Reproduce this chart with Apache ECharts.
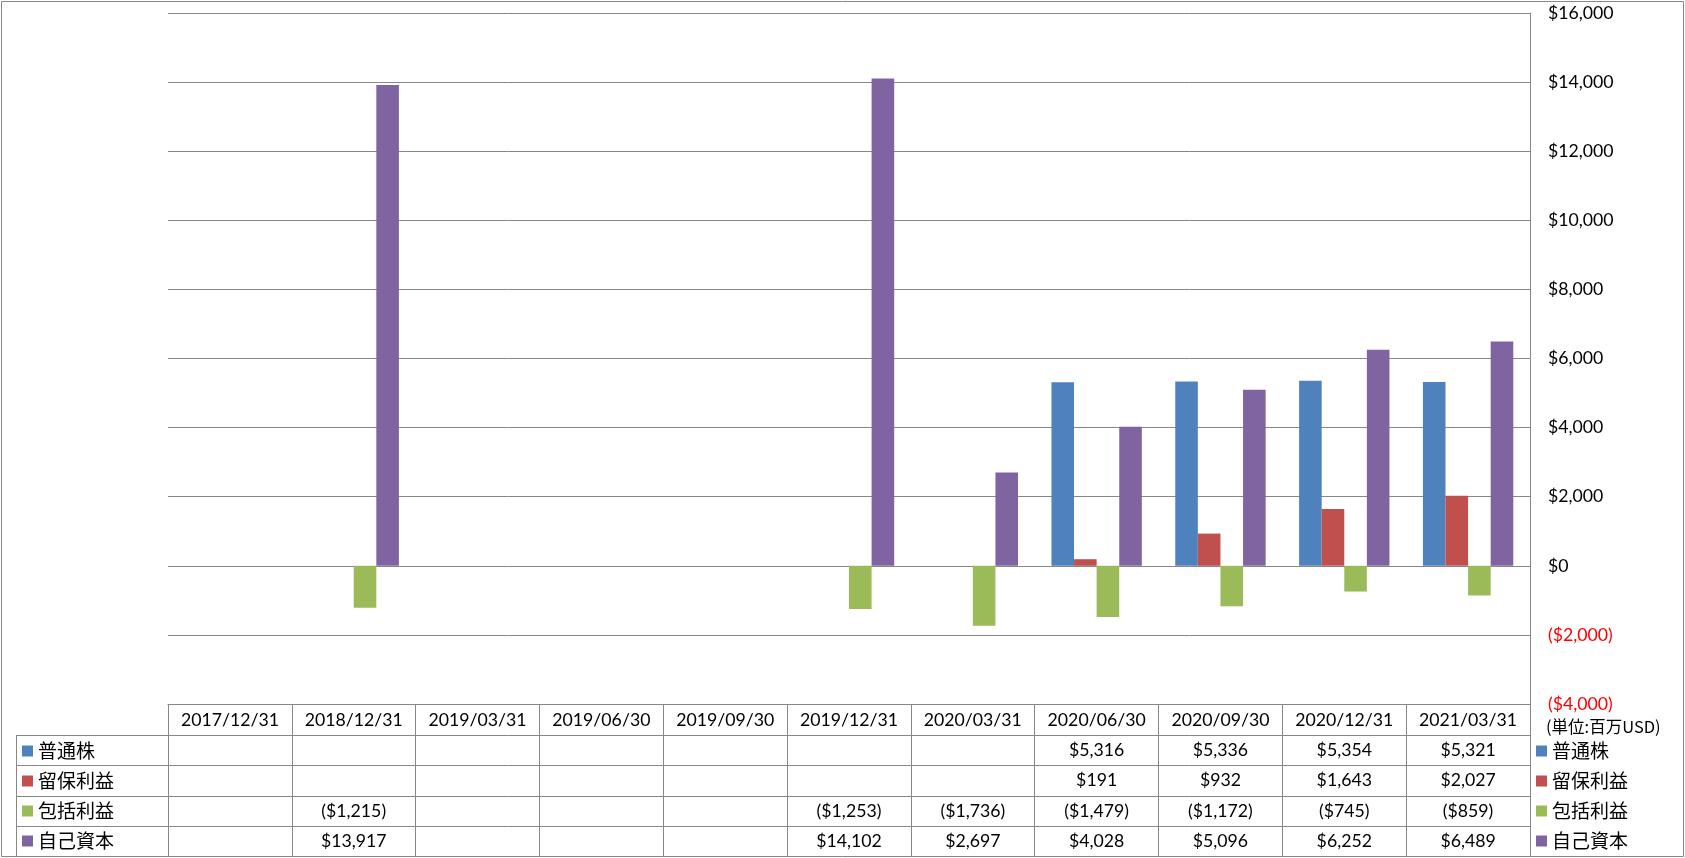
<!DOCTYPE html>
<html><head><meta charset="utf-8">
<script src="https://cdn.jsdelivr.net/npm/echarts@6/dist/echarts.min.js"></script>
<style>html,body{margin:0;padding:0;background:#fff}#c{width:1685px;height:858px}</style>
</head><body><div id="c"></div>
<script>
const categories = ['2017/12/31','2018/12/31','2019/03/31','2019/06/30','2019/09/30','2019/12/31','2020/03/31','2020/06/30','2020/09/30','2020/12/31','2021/03/31'];
const seriesNames = ['普通株','留保利益','包括利益','自己資本'];
const commonStock = [null,null,null,null,null,null,null,5316,5336,5354,5321];
const retainedEarnings = [null,null,null,null,null,null,null,191,932,1643,2027];
const comprehensiveIncome = [null,-1215,null,null,null,-1253,-1736,-1479,-1172,-745,-859];
const equity = [null,13917,null,null,null,14102,2697,4028,5096,6252,6489];
const yMin = -4000, yMax = 16000, yInterval = 2000;
const unitLabel = '(単位:百万USD)';

const colors = ['#4F81BD','#C0504D','#9BBB59','#8064A2'];
const gray = '#878787';
const numFont = 'Lato';
const jpFont = 'Noto Sans CJK JP';
const rows = [commonStock, retainedEarnings, comprehensiveIncome, equity];

function money(v){
  if (v == null || v === '') return '';
  const s = '$' + Math.abs(v).toLocaleString('en-US');
  return v < 0 ? '(' + s + ')' : s;
}

// layout
const G = {left:168, right:155, top:13, bottom:154};
const plotBottom = 858 - G.bottom; // 704
const rowOffsets = [31, 61, 92, 122];
const rowEnd = 152;

const xAxes = [{
  type:'category', data:categories, position:'bottom', offset:0, gridIndex:0,
  axisLine:{show:true, onZero:false, lineStyle:{color:gray, width:1}},
  axisTick:{show:true, interval:0, length:rowOffsets[0], lineStyle:{color:gray}},
  axisLabel:{interval:0, margin:16, verticalAlign:'middle', fontFamily:numFont, fontSize:17.7, color:'#000'},
  splitLine:{show:false}
}];
rows.forEach((r, k) => {
  const next = k < rows.length - 1 ? rowOffsets[k+1] : rowEnd;
  xAxes.push({
    type:'category', data:categories, position:'bottom', offset:rowOffsets[k], gridIndex:0,
    axisLine:{show:true, onZero:false, lineStyle:{color:gray, width:1}},
    axisTick:{show:true, interval:0, length:next - rowOffsets[k], lineStyle:{color:gray}},
    axisLabel:{interval:0, margin:15, verticalAlign:'middle', fontFamily:numFont, fontSize:17.7, color:'#000',
      formatter:(v, i) => money(r[i])},
    splitLine:{show:false}
  });
});

const legendBase = {
  data: seriesNames, orient:'vertical', icon:'rect', itemWidth:11, itemHeight:11, itemGap:10,
  padding:0, selectedMode:false, top:741,
  textStyle:{fontFamily:jpFont, fontSize:19, lineHeight:20, color:'#000'}
};

const rowLineYs = [735, 765, 796, 826];
const graphics = [
  {type:'rect', shape:{x:1.5, y:1.5, width:1682, height:855}, style:{fill:null, stroke:gray, lineWidth:1}, silent:true},
  {type:'line', shape:{x1:16.5, y1:735, x2:16.5, y2:856}, style:{stroke:gray, lineWidth:1}, silent:true},
  {type:'text', left:1546, top:718, style:{text:unitLabel, font:'16.5px "Noto Sans CJK JP"', fill:'#000'}, silent:true}
];
rowLineYs.forEach(y => graphics.push({type:'line', shape:{x1:16, y1:y+0.5, x2:168, y2:y+0.5}, style:{stroke:gray, lineWidth:1}, silent:true}));

const chart = echarts.init(document.getElementById('c'), null, {renderer:'canvas'});
chart.setOption({
  animation:false,
  backgroundColor:'#fff',
  grid:{left:G.left, right:G.right, top:G.top, bottom:G.bottom, outerBoundsMode:'none', containLabel:false},
  xAxis: xAxes,
  yAxis:{
    type:'value', position:'right', min:yMin, max:yMax, interval:yInterval,
    axisLine:{show:true, lineStyle:{color:gray, width:1}},
    axisTick:{show:false},
    splitLine:{show:true, lineStyle:{color:gray, width:1}},
    axisLabel:{margin:18, fontFamily:numFont, fontSize:17.7,
      formatter:v => money(v),
      color:(v) => (Number(v) < 0 ? '#FF0000' : '#000')}
  },
  legend:[
    Object.assign({}, legendBase, {left:22}),
    Object.assign({}, legendBase, {left:1536})
  ],
  series: rows.map((r, k) => ({
    name:seriesNames[k], type:'bar', data:r, xAxisIndex:0, yAxisIndex:0,
    barGap:'0%', barCategoryGap:'27%',
    itemStyle:{color:colors[k]}
  })),
  graphic: graphics
});
</script>
</body></html>
